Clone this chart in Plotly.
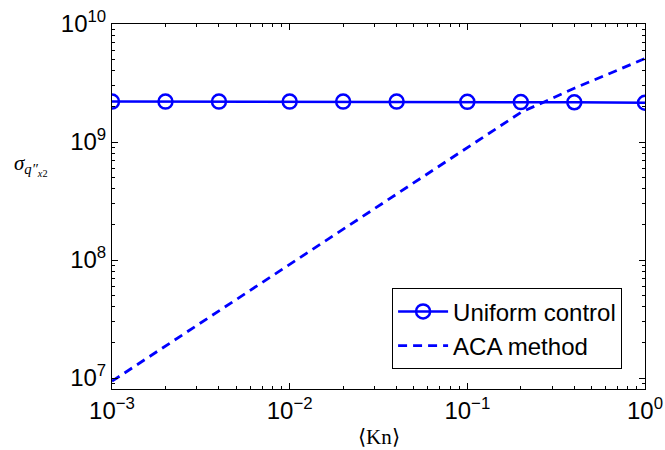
import plotly.graph_objects as go

kn = [0.001, 0.002, 0.004, 0.01, 0.02, 0.04, 0.1, 0.2, 0.4, 1.0]
uniform = [2.2e9, 2.2e9, 2.2e9, 2.2e9, 2.2e9, 2.2e9, 2.19e9, 2.18e9, 2.17e9, 2.15e9]
aca = [9.4e6, 1.87e7, 3.7e7, 9.2e7, 1.83e8, 3.6e8, 9.0e8, 1.78e9, 2.85e9, 5.1e9]

x_tickvals = [1e-3, 1e-2, 1e-1, 1e0]
x_ticktext = ["10<sup>−3</sup>", "10<sup>−2</sup>", "10<sup>−1</sup>", "10<sup>0</sup>"]
y_tickvals = [1e7, 1e8, 1e9, 1e10]
y_ticktext = ["10<sup>7</sup>", "10<sup>8</sup>", "10<sup>9</sup>", "10<sup>10</sup>"]

x_minor = [m * 10 ** e for e in (-3, -2, -1) for m in range(2, 10)]
y_minor = [m * 10 ** e for e in (6, 7, 8, 9) for m in range(2, 10)]

blue = "#0000ff"
fig = go.Figure()
fig.add_trace(go.Scatter(
    x=kn, y=uniform, mode="lines+markers", name="Uniform control",
    line=dict(color=blue, width=2.5),
    marker=dict(symbol="circle-open", size=14, color=blue, line=dict(width=2.5, color=blue)),
))
fig.add_trace(go.Scatter(
    x=kn, y=aca, mode="lines", name="ACA method",
    line=dict(color=blue, width=2.8, dash="9px,6px"),
))

axis_common = dict(
    type="log", showgrid=False, zeroline=False, automargin=False,
    showline=True, linecolor="black", linewidth=1, mirror="allticks",
    ticks="inside", ticklen=6, tickcolor="black", tickwidth=1,
    tickmode="array",
    tickfont=dict(family="Liberation Sans, Arial, sans-serif", size=24, color="black"),
)
minor_common = dict(ticks="inside", ticklen=3, tickcolor="black", tickwidth=1,
                    showgrid=False, tickmode="array")

fig.update_layout(
    width=665, height=450,
    margin=dict(l=112, r=20, t=24, b=61, autoexpand=False),
    plot_bgcolor="white", paper_bgcolor="white",
    xaxis=dict(range=[-3, 0], tickvals=x_tickvals, ticktext=x_ticktext,
               minor=dict(tickvals=x_minor, **minor_common), **axis_common),
    yaxis=dict(range=[6.907, 10], tickvals=y_tickvals, ticktext=y_ticktext,
               minor=dict(tickvals=y_minor, **minor_common), **axis_common),
    showlegend=True,
    legend=dict(
        x=0.957, y=0.054, xanchor="right", yanchor="bottom",
        bgcolor="white", bordercolor="black", borderwidth=1,
        font=dict(family="Liberation Sans, Arial, sans-serif", size=24, color="black"),
        tracegroupgap=0, itemwidth=50,
    ),
    annotations=[
        dict(text="⟨Kn⟩", xref="paper", yref="paper", x=0.5, y=-0.094,
             xanchor="center", yanchor="top", showarrow=False,
             font=dict(family="Liberation Serif, Times New Roman, serif", size=21, color="black")),
        dict(text="<i>σ</i><sub><i>q″</i><sub><i>x</i>2</sub></sub>", xref="paper", yref="paper",
             x=-0.116, y=0.615, xanchor="right", yanchor="middle", showarrow=False,
             font=dict(family="Liberation Serif, Times New Roman, serif", size=21, color="black")),
    ],
)

fig.write_html("out.html", config={"displayModeBar": False},
               post_script="document.body.style.margin='0';document.body.style.padding='0';")
